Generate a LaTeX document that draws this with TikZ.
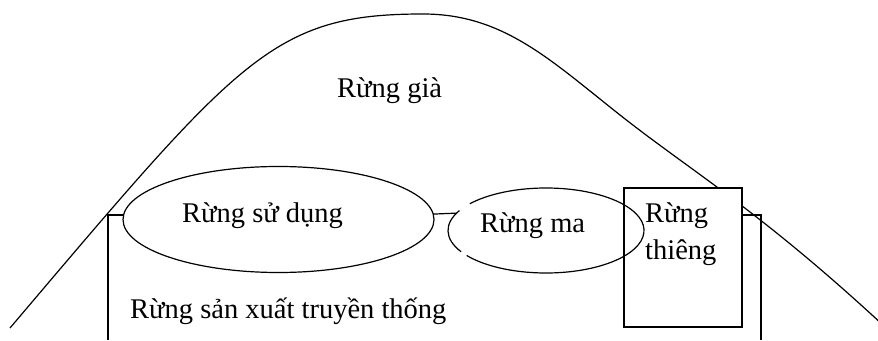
\documentclass[tikz,border=0pt]{standalone}
\usepackage{fontspec}
\setmainfont{Liberation Serif}
\usetikzlibrary{shapes.geometric}
\begin{document}
\begin{tikzpicture}[x=1pt,y=1pt,
  line/.style={draw=black,line width=1.2pt},
  lbl/.style={font=\fontsize{28.5}{34}\selectfont,inner sep=0pt,anchor=base west},
  oval/.style={ellipse,draw=black,line width=1.2pt,inner sep=0pt,outer sep=0pt},
  box/.style={rectangle,draw=black,fill=white,line width=1.2pt,inner sep=0pt,outer sep=0pt}]
\fill[white] (0,0) rectangle (878,340);
\useasboundingbox (0,0) rectangle (878,340);
% bell curve
\draw[line] (10,12) .. controls (240,283) and (273,326) .. (423,326)
  .. controls (503,326) and (550,280.3) .. (620,225)
  .. controls (690,169.7) and (760,129) .. (884,14);
% Rung thieng box
\node[box,minimum width=118pt,minimum height=139pt] (th) at (683,82.5) {};
\node[lbl] (th1) at (645,117) {Rừng};
\node[lbl] (th2) at (645,80) {thiêng};
% Rung su dung ellipse
\node[oval,minimum width=311pt,minimum height=106pt] (sd) at (278.5,120.5) {};
\node[lbl] (sdt) at (182,117) {Rừng sử dụng};
% Rung ma ellipse (drawn with small gaps)
\node[ellipse,inner sep=0pt,outer sep=0pt,minimum width=196pt,minimum height=85pt] (rm) at (546,109.5) {};
\draw[line] ([shift={(rm.center)}]152:98 and 42.5) arc[start angle=152,end angle=210,x radius=98,y radius=42.5];
\draw[line] ([shift={(rm.center)}]216:98 and 42.5) arc[start angle=216,end angle=501,x radius=98,y radius=42.5];
\node[lbl] (rmt) at (480,107) {Rừng ma};
% texts
\node[lbl] (rg) at (337,242) {Rừng già};
\node[lbl] (sx) at (130,21) {Rừng sản xuất truyền thống};
% brackets and connectors
\coordinate (cl) at (108,125);
\coordinate (cl0) at (108,0);
\coordinate (cr) at (761,125);
\coordinate (cr0) at (761,0);
\draw[line] (cl0) -- (cl) -- (cl -| sd.west);
\draw[line] (cr0) -- (cr) -- (cr -| th.east);
\draw[line] (sd.2) -- (rm.169.5);
\end{tikzpicture}
\end{document}
